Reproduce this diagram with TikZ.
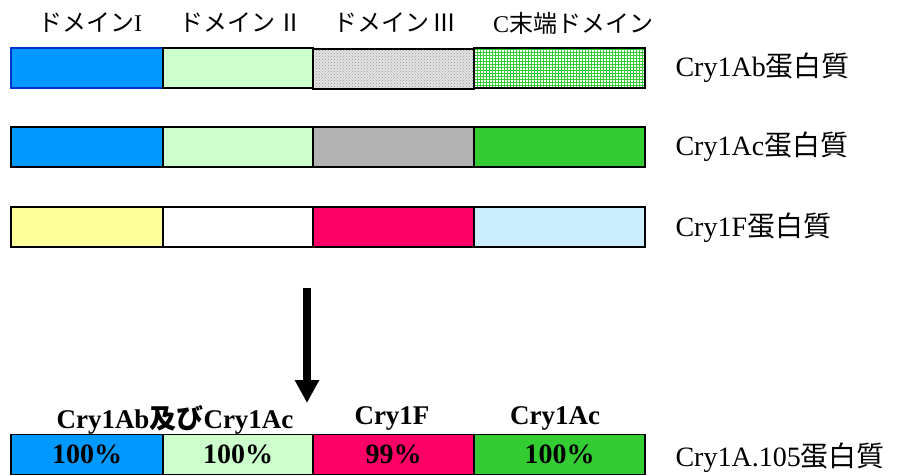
\documentclass[tikz,border=0pt]{standalone}
\usepackage{fontspec}
\setmainfont{Liberation Serif}
\newfontfamily\jp{Noto Sans CJK JP}
\usetikzlibrary{arrows.meta,patterns}

\definecolor{blau}{RGB}{0,153,255}
\definecolor{dunkelblau}{RGB}{0,51,204}
\definecolor{hellgruen}{RGB}{204,255,204}
\definecolor{grau}{RGB}{178,178,178}
\definecolor{gruen}{RGB}{51,204,51}
\definecolor{gelb}{RGB}{255,255,153}
\definecolor{pink}{RGB}{255,0,102}
\definecolor{hellblau}{RGB}{204,236,255}

\begin{document}
\begin{tikzpicture}[x=1pt,y=1pt,
feld/.style={draw=black, line width=1.3pt, anchor=south west, inner sep=0pt, outer sep=0pt, minimum height=40pt},
f1/.style={feld, minimum width=152pt},
f2/.style={feld, minimum width=150pt},
f3/.style={feld, minimum width=161pt},
f4/.style={feld, minimum width=171pt},
etikett/.style={anchor=west, font=\fontsize{28}{32}\selectfont},
kopf/.style={font=\fontsize{24}{28}\selectfont},
fett/.style={font=\fontsize{27}{30}\selectfont\bfseries},
prozent/.style={font=\fontsize{28}{30}\selectfont\bfseries},
]

\useasboundingbox (0,0) rectangle (902,475);

%Kopfzeile
\node[kopf] (d1) at (90,452) {{\jp ドメイン}I};
\node[kopf] (d2) at (241,452) {{\jp ドメイン}\,{\jp Ⅱ}};
\node[kopf] (d3) at (395,452) {{\jp ドメイン}\,{\jp Ⅲ}};
\node[kopf] (d4) at (573,452) {C{\jp 末端ドメイン}};

%Cry1Ab
\node[f1, fill=blau, draw=dunkelblau] (ab1) at (11,387) {};
\node[f2, fill=hellgruen] (ab2) at (163,387) {};
\node[f3, preaction={fill=gray!22}, pattern=crosshatch dots, pattern color=gray!80] (ab3) at (313,386) {};
\node[f4, pattern=grid, pattern color=gruen] (ab4) at (474,387) {};
\node[etikett] (ab) at (672,407) {Cry1Ab{\jp 蛋白質}};

%Cry1Ac
\node[f1, fill=blau] (ac1) at (11,308) {};
\node[f2, fill=hellgruen] (ac2) at (163,308) {};
\node[f3, fill=grau] (ac3) at (313,308) {};
\node[f4, fill=gruen] (ac4) at (474,308) {};
\node[etikett] (ac) at (672,328) {Cry1Ac{\jp 蛋白質}};

%Cry1F
\node[f1, fill=gelb] (f1) at (11,228) {};
\node[f2, fill=white] (f2) at (163,228) {};
\node[f3, fill=pink] (f3) at (313,228) {};
\node[f4, fill=hellblau] (f4) at (474,228) {};
\node[etikett] (f) at (672,247) {Cry1F{\jp 蛋白質}};

%Pfeil
\coordinate (oben) at (307,187);
\coordinate (unten) at (307,72);
\draw[-{Triangle[width=23pt,length=23pt]}, line width=8pt] (oben) -- (unten);

%Cry1A.105
\node[f1, fill=blau, prozent] (n1) at (11,0.7) {100\%};
\node[f2, fill=hellgruen, prozent] (n2) at (163,0.7) {100\%};
\node[f3, fill=pink, prozent] (n3) at (313,0.7) {99\%};
\node[f4, fill=gruen, prozent] (n4) at (474,0.7) {100\%};
\node[etikett] (neu) at (672,17) {Cry1A.105{\jp 蛋白質}};

\node[fett] (t1) at (175,55) {Cry1Ab{\jp 及び}Cry1Ac};
\node[fett] (t2) at (392,57) {Cry1F};
\node[fett] (t3) at (555,57) {Cry1Ac};

\end{tikzpicture}
\end{document}
